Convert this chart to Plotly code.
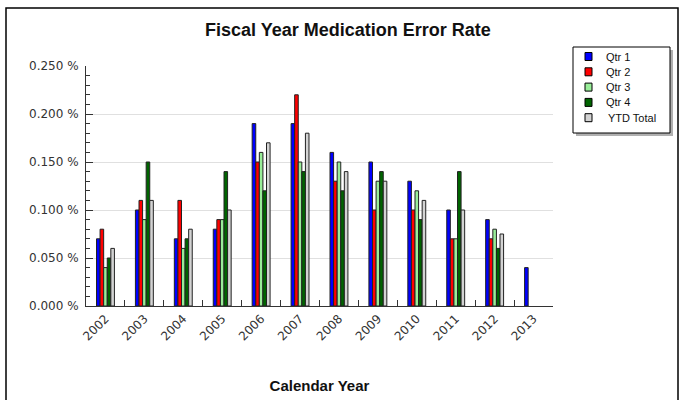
import plotly.graph_objects as go

years = ["2002", "2003", "2004", "2005", "2006", "2007", "2008", "2009", "2010", "2011", "2012", "2013"]
qtr1 = [0.07, 0.10, 0.07, 0.08, 0.19, 0.19, 0.16, 0.15, 0.13, 0.10, 0.09, 0.04]
qtr2 = [0.08, 0.11, 0.11, 0.09, 0.15, 0.22, 0.13, 0.10, 0.10, 0.07, 0.07, None]
qtr3 = [0.04, 0.09, 0.06, 0.09, 0.16, 0.15, 0.15, 0.13, 0.12, 0.07, 0.08, None]
qtr4 = [0.05, 0.15, 0.07, 0.14, 0.12, 0.14, 0.12, 0.14, 0.09, 0.14, 0.06, None]
ytd = [0.06, 0.11, 0.08, 0.10, 0.17, 0.18, 0.14, 0.13, 0.11, 0.10, 0.075, None]

series_names = ["Qtr 1", "Qtr 2", "Qtr 3", "Qtr 4", "YTD Total"]
series_values = [qtr1, qtr2, qtr3, qtr4, ytd]
series_colors = ["#0000FF", "#FF0000", "#99EE99", "#006400", "#D3D3D3"]

tick_vals = [0, 0.05, 0.10, 0.15, 0.20, 0.25]
tick_text = ["0.000 %", "0.050 %", "0.100 %", "0.150 %", "0.200 %", "0.250 %"]

fig = go.Figure()
for name, vals, color in zip(series_names, series_values, series_colors):
    fig.add_trace(go.Bar(
        x=years, y=vals, name=name, showlegend=False,
        marker=dict(color=color, line=dict(color="#222222", width=1)),
    ))

W, H = 679, 400
L, R, T, B = 86, 126, 66, 94
pw, ph = W - L - R, H - T - B

def px(x):
    return (x - L) / pw

def py(y):
    return (H - B - y) / ph

font = "Liberation Sans, Arial, sans-serif"
tickfont = "DejaVu Sans, sans-serif"

shapes = [
    dict(type="rect", xref="paper", yref="paper",
         x0=px(6), x1=px(678), y0=py(420), y1=py(8),
         line=dict(color="black", width=1.5), fillcolor="rgba(0,0,0,0)", layer="below"),
    # legend shadow and box
    dict(type="rect", xref="paper", yref="paper",
         x0=px(576), x1=px(673), y0=py(136), y1=py(50),
         line=dict(width=0), fillcolor="#B0B0B0", layer="above"),
    dict(type="rect", xref="paper", yref="paper",
         x0=px(573), x1=px(670), y0=py(133), y1=py(47),
         line=dict(color="black", width=1), fillcolor="white", layer="above"),
]
annotations = []
for i, (name, color) in enumerate(zip(series_names, series_colors)):
    cy = 56.5 + i * 15.3
    shapes.append(dict(type="rect", xref="paper", yref="paper",
                       x0=px(585), x1=px(592), y0=py(cy + 4), y1=py(cy - 4),
                       line=dict(color="black", width=1), fillcolor=color, layer="above"))
    annotations.append(dict(text=name, xref="paper", yref="paper",
                            x=px(604 if i < 4 else 606), y=py(cy), xanchor="left", yanchor="middle",
                            showarrow=False, font=dict(family=font, size=11, color="#111111")))

fig.update_layout(
    width=W, height=H,
    margin=dict(l=L, r=R, t=T, b=B),
    paper_bgcolor="white", plot_bgcolor="white",
    barmode="group", bargap=0.54, bargroupgap=0,
    font=dict(family=font, size=12, color="#222222"),
    title=dict(text="<b>Fiscal Year Medication Error Rate</b>", x=px(348), xref="paper",
               xanchor="center", y=1 - 30 / H, yanchor="middle",
               font=dict(size=18, color="#111111")),
    showlegend=False,
    xaxis=dict(
        type="category", tickangle=-45, showgrid=False, automargin=False,
        showline=True, linecolor="#333333", linewidth=1,
        ticks="inside", ticklen=6, tickcolor="#333333", tickson="boundaries",
        tickfont=dict(family=tickfont, size=12, color="#333333"),
        title=dict(text="<b>Calendar Year</b>", font=dict(size=15, color="#111111"), standoff=38),
    ),
    yaxis=dict(
        range=[0, 0.25], tickvals=tick_vals, ticktext=tick_text, automargin=False,
        showgrid=True, gridcolor="#E0E0E0", gridwidth=1,
        showline=True, linecolor="#333333", linewidth=1,
        ticks="inside", ticklen=7, tickcolor="#333333",
        minor=dict(dtick=0.01, ticks="inside", ticklen=4, tickcolor="#333333", showgrid=False),
        tickfont=dict(family=tickfont, size=12, color="#333333"), zeroline=False,
        ticklabelstandoff=4,
    ),
    shapes=shapes,
    annotations=annotations,
)

fig.write_html("out.html", config={"displayModeBar": False},
               post_script="document.body.style.margin='0px';")
